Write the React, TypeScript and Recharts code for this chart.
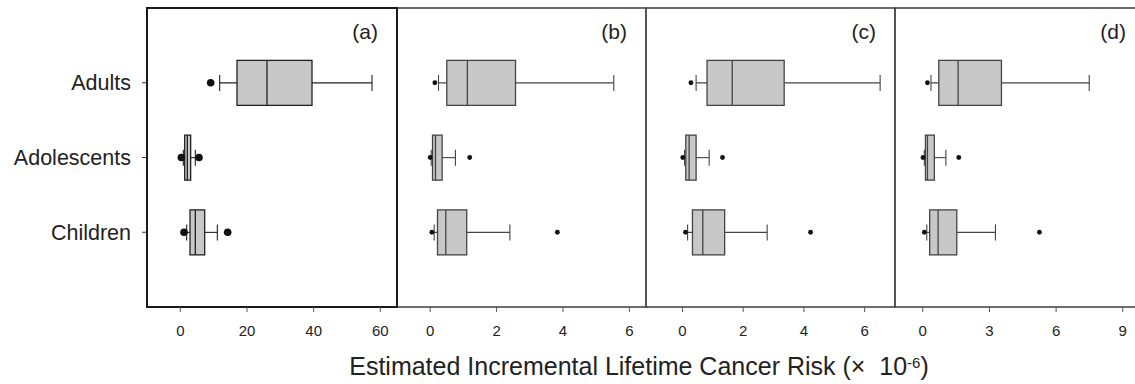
import React from "react";
import { Bar, ComposedChart, ReferenceArea, Scatter, XAxis, YAxis } from "recharts";

const categories = ["Adults", "Adolescents", "Children"];

// each row: [lower whisker, Q1, median, Q3, upper whisker], order as categories
const boxesA = [
  [11.8, 17.0, 26.0, 39.5, 57.5],
  [0.9, 1.3, 2.1, 3.1, 4.5],
  [1.9, 2.9, 4.5, 7.3, 11.1],
];
const boxesB = [
  [0.25, 0.5, 1.12, 2.57, 5.53],
  [0.03, 0.07, 0.16, 0.36, 0.76],
  [0.12, 0.22, 0.47, 1.1, 2.4],
];
const boxesC = [
  [0.45, 0.81, 1.64, 3.35, 6.51],
  [0.07, 0.11, 0.22, 0.45, 0.88],
  [0.17, 0.33, 0.67, 1.39, 2.79],
];
const boxesD = [
  [0.37, 0.72, 1.59, 3.54, 7.49],
  [0.07, 0.12, 0.21, 0.52, 1.04],
  [0.18, 0.31, 0.69, 1.53, 3.27],
];

// [low outlier, high outlier]
const outliersA = [[9.1, null], [0.3, 5.6], [1.1, 14.2]];
const outliersB = [[0.14, null], [0.0, 1.19], [0.05, 3.83]];
const outliersC = [[0.28, null], [0.01, 1.32], [0.1, 4.22]];
const outliersD = [[0.21, null], [0.01, 1.62], [0.07, 5.25]];

const ticksA = [0, 20, 40, 60];
const ticksB = [0, 2, 4, 6];
const ticksC = [0, 2, 4, 6];
const ticksD = [0, 3, 6, 9];

const CHART_W = 1160;
const CHART_H = 384;
const BOX_H = 45;
const CAP = 8;
const FONT = '"Liberation Sans", Arial, sans-serif';

// vertical layout puts low values at the top, so Adults gets position 1
const buildRows = (boxes: number[][], outliers: (number | null)[][]) =>
  categories.map((name, i) => ({
    name,
    pos: i + 1,
    lo: boxes[i][0],
    q1: boxes[i][1],
    med: boxes[i][2],
    q3: boxes[i][3],
    hi: boxes[i][4],
    outLo: outliers[i][0],
    outHi: outliers[i][1],
  }));

const panels = [
  { label: "(a)", rows: buildRows(boxesA, outliersA), ticks: ticksA, domain: [-10, 65], left: 147, right: 397, first: true },
  { label: "(b)", rows: buildRows(boxesB, outliersB), ticks: ticksB, domain: [-1, 6.5], left: 397, right: 646, first: false },
  { label: "(c)", rows: buildRows(boxesC, outliersC), ticks: ticksC, domain: [-1.2, 7], left: 646, right: 895, first: false },
  { label: "(d)", rows: buildRows(boxesD, outliersD), ticks: ticksD, domain: [-1.25, 10], left: 895, right: 1145, first: false },
];

const makeWhisker = (color: string) => (props: any) => {
  const { x, y, width, height } = props;
  if (x == null || width == null) return <g />;
  const cy = y + height / 2;
  return (
    <g stroke={color} strokeWidth={1.1}>
      <line x1={x} x2={x + width} y1={cy} y2={cy} />
      <line x1={x} x2={x} y1={cy - CAP} y2={cy + CAP} />
      <line x1={x + width} x2={x + width} y1={cy - CAP} y2={cy + CAP} />
    </g>
  );
};

const makeBox = (color: string) => (props: any) => {
  const { x, y, width, height } = props;
  if (x == null || width == null) return <g />;
  return <rect x={x} y={y} width={width} height={height} fill="#c8c8c8" stroke={color} strokeWidth={1.3} />;
};

const makeMedian = (color: string) => (props: any) => {
  const { x, y, width, height } = props;
  if (x == null || width == null) return <g />;
  return <line x1={x + width} x2={x + width} y1={y} y2={y + height} stroke={color} strokeWidth={1.3} />;
};

const makeDot = (r: number) => (props: any) => {
  const { cx, cy } = props;
  if (cx == null || cy == null || isNaN(cx)) return <g />;
  return <circle cx={cx} cy={cy} r={r} fill="#111" />;
};

function Panel({ label, rows, ticks, domain, left, right, first }: any) {
  const border = first ? "#1a1a1a" : "#3c3c3c";
  const lineColor = first ? "#222" : "#444";
  const tag = (p: any) => {
    const vb = p.viewBox;
    if (!vb) return null;
    return (
      <text x={vb.x + vb.width - 19} y={vb.y + 31} textAnchor="end" fontSize={21} fill="#222" fontFamily={FONT}>
        {label}
      </text>
    );
  };
  return (
    <div style={{ position: "absolute", left: 0, top: 0 }}>
      <ComposedChart
        width={CHART_W}
        height={CHART_H}
        data={rows}
        layout="vertical"
        barGap={-BOX_H}
        margin={{ top: 8, bottom: 47, left: first ? 0 : left, right: CHART_W - right }}
      >
        <XAxis
          type="number"
          domain={domain}
          ticks={ticks}
          interval={0}
          allowDataOverflow
          height={30}
          tickSize={5}
          tickMargin={13}
          axisLine={false}
          tickLine={{ stroke: "#555" }}
          tick={{ fill: "#222", fontSize: 15, fontFamily: FONT }}
        />
        <YAxis
          type="number"
          dataKey="pos"
          domain={[0, 4]}
          ticks={[1, 2, 3]}
          interval={0}
          allowDataOverflow
          hide={!first}
          width={first ? left : 0}
          tickFormatter={(v: number) => categories[v - 1]}
          tickSize={5}
          tickMargin={11}
          axisLine={false}
          tickLine={{ stroke: "#333" }}
          tick={{ fill: "#222", fontSize: 21.5, fontFamily: FONT }}
        />
        <ReferenceArea
          x1={domain[0]}
          x2={domain[1]}
          y1={0}
          y2={4}
          fill="none"
          fillOpacity={0}
          stroke={border}
          strokeWidth={first ? 2 : 1.3}
          label={tag}
        />
        <Bar dataKey={(d: any) => [d.lo, d.hi]} barSize={BOX_H} shape={makeWhisker(lineColor)} isAnimationActive={false} />
        <Bar dataKey={(d: any) => [d.q1, d.q3]} barSize={BOX_H} shape={makeBox(lineColor)} isAnimationActive={false} />
        <Bar dataKey={(d: any) => [d.q1, d.med]} barSize={BOX_H} shape={makeMedian(lineColor)} isAnimationActive={false} />
        <Scatter dataKey="outLo" shape={makeDot(first ? 3.8 : 2.4)} isAnimationActive={false} />
        <Scatter dataKey="outHi" shape={makeDot(first ? 3.8 : 2.4)} isAnimationActive={false} />
      </ComposedChart>
    </div>
  );
}

export default function App() {
  return (
    <div
      style={{
        position: "absolute",
        left: 0,
        top: 0,
        width: 1135,
        height: 384,
        overflow: "hidden",
        background: "#fff",
        fontFamily: FONT,
      }}
    >
      {panels
        .slice()
        .reverse()
        .map((p) => (
          <Panel key={p.label} {...p} />
        ))}
      <div
        style={{
          position: "absolute",
          left: 0,
          width: 1278,
          top: 354,
          textAlign: "center",
          fontSize: 25,
          lineHeight: "25px",
          color: "#222",
          whiteSpace: "nowrap",
        }}
      >
        Estimated Incremental Lifetime Cancer Risk (×&nbsp; 10
        <sup style={{ fontSize: 15, verticalAlign: "top", position: "relative", top: -4 }}>-6</sup>)
      </div>
    </div>
  );
}
